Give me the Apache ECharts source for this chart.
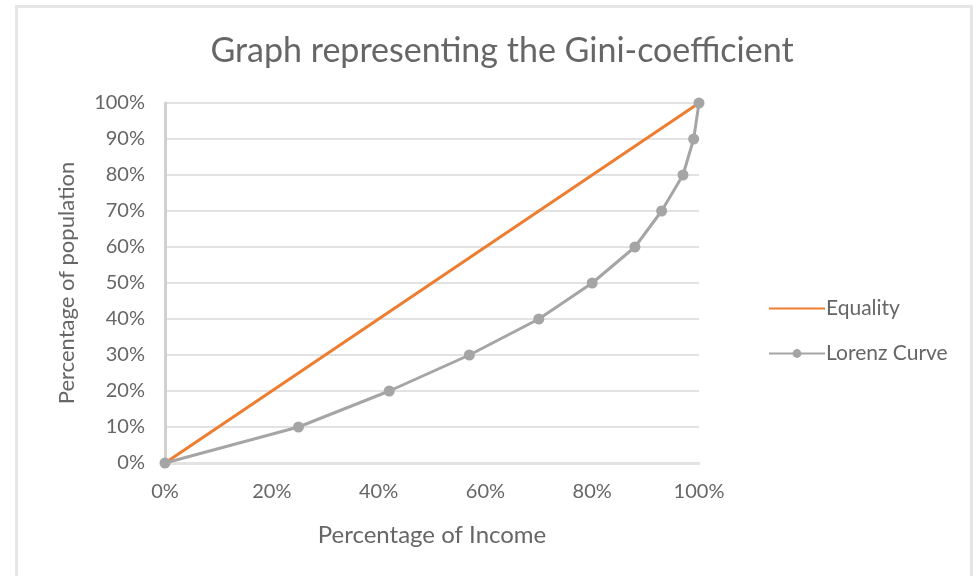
<!DOCTYPE html>
<html>
<head>
<meta charset="utf-8">
<script src="https://cdn.jsdelivr.net/npm/echarts@6/dist/echarts.min.js"></script>
<style>
  html, body { margin: 0; padding: 0; background: #fff; overflow: hidden; }
  #frame {
    position: absolute; left: 15px; top: 5px; width: 958px; height: 600px;
    border: 3px solid #e6e6e6; box-sizing: border-box;
  }
  #main { position: absolute; left: 0; top: 0; width: 979px; height: 576px; }
</style>
</head>
<body>
<div id="frame"></div>
<div id="main"></div>
<script>
// data
const equalityX = [0, 100]
const equalityY = [0, 100]
const lorenzX = [0, 25, 42, 57, 70, 80, 88, 93, 97, 99, 100]
const lorenzY = [0, 10, 20, 30, 40, 50, 60, 70, 80, 90, 100]

const textColor = '#666666'
const font = 'Lato, "Open Sans", sans-serif'

const myChart = echarts.init(document.getElementById('main'))

const option = {
  animation: false,
  textStyle: { fontFamily: font },
  title: {
    text: 'Graph representing the Gini-coefficient',
    left: 497,
    textAlign: 'center',
    top: 29,
    textStyle: {
      color: textColor,
      fontSize: 34,
      fontWeight: 'normal',
      fontFamily: font
    }
  },
  legend: {
    orient: 'vertical',
    left: 763,
    top: 293,
    itemWidth: 56,
    itemHeight: 11,
    itemGap: 24,
    textStyle: { color: textColor, fontSize: 21, fontFamily: font, padding: [0, 0, 0, -4] },
    data: [
      { name: 'Equality', itemStyle: { opacity: 0 } },
      'Lorenz Curve'
    ]
  },
  grid: {
    left: 165,
    right: 280,
    top: 103,
    bottom: 113
  },
  xAxis: {
    type: 'value',
    min: 0,
    max: 100,
    interval: 20,
    name: 'Percentage of Income',
    nameLocation: 'middle',
    nameGap: 60,
    nameTextStyle: { color: textColor, fontSize: 24, fontFamily: font },
    axisLine: { show: true, lineStyle: { color: '#e3e3e3', width: 3 } },
    axisTick: { show: false },
    splitLine: { show: false },
    axisLabel: {
      color: textColor,
      fontSize: 20,
      margin: 19,
      formatter: '{value}%'
    }
  },
  yAxis: {
    type: 'value',
    min: 0,
    max: 100,
    interval: 10,
    name: 'Percentage of population',
    nameLocation: 'middle',
    nameRotate: 90,
    nameGap: 87,
    nameTextStyle: { color: textColor, fontSize: 22, fontFamily: font },
    axisLine: { show: true, lineStyle: { color: '#d0d0d0', width: 3 } },
    axisTick: { show: false },
    splitLine: { lineStyle: { color: '#e2e2e2', width: 2 } },
    axisLabel: {
      color: textColor,
      fontSize: 20,
      margin: 20,
      formatter: '{value}%'
    }
  },
  series: [
    {
      name: 'Equality',
      type: 'line',
      data: equalityX.map((x, i) => [x, equalityY[i]]),
      symbol: 'none',
      lineStyle: { color: '#ED7D31', width: 3 },
      itemStyle: { color: '#ED7D31' },
      z: 3
    },
    {
      name: 'Lorenz Curve',
      type: 'line',
      data: lorenzX.map((x, i) => [x, lorenzY[i]]),
      symbol: 'circle',
      symbolSize: 11,
      lineStyle: { color: '#A5A5A5', width: 3 },
      itemStyle: { color: '#A5A5A5' },
      z: 4
    }
  ]
}

myChart.setOption(option)
</script>
</body>
</html>
